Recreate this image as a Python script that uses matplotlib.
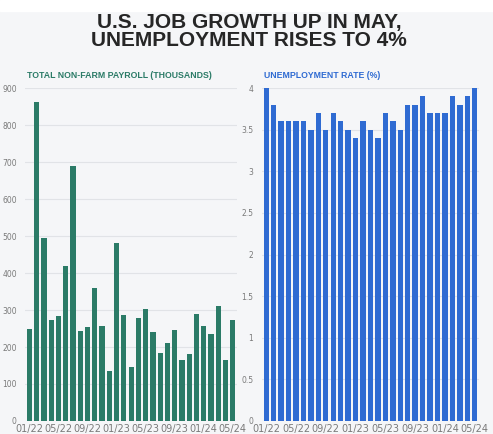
import matplotlib.pyplot as plt
import numpy as np

months = ["01/22", "02/22", "03/22", "04/22", "05/22", "06/22", "07/22", "08/22", "09/22", "10/22",
          "11/22", "12/22", "01/23", "02/23", "03/23", "04/23", "05/23", "06/23", "07/23", "08/23",
          "09/23", "10/23", "11/23", "12/23", "01/24", "02/24", "03/24", "04/24", "05/24"]
payroll = [250, 862, 494, 272, 285, 420, 690, 243, 255, 360, 258, 135, 480, 286, 145,
           278, 303, 240, 184, 210, 246, 165, 182, 290, 256, 236, 310, 165, 272]
unemp = [4.0, 3.8, 3.6, 3.6, 3.6, 3.6, 3.5, 3.7, 3.5, 3.7, 3.6, 3.5, 3.4, 3.6, 3.5,
         3.4, 3.7, 3.6, 3.5, 3.8, 3.8, 3.9, 3.7, 3.7, 3.7, 3.9, 3.8, 3.9, 4.0]
payroll_ticks = list(range(0, 901, 100))
unemp_ticks = [0, 0.5, 1, 1.5, 2, 2.5, 3, 3.5, 4]

bg = "#f5f6f8"
green = "#2b7b67"
blue = "#2f6bd2"

fig = plt.figure(figsize=(4.93, 4.34), dpi=100, facecolor=bg)
fig.patches.append(plt.Rectangle((0, 0.975), 1, 0.025, transform=fig.transFigure,
                                 color="white", zorder=0))

# headline
fig.text(0.505, 0.927, "U.S. JOB GROWTH UP IN MAY,\nUNEMPLOYMENT RISES TO 4%",
         ha="center", va="center", fontsize=15, fontweight="bold",
         family="Liberation Sans", color="#262626", linespacing=0.92)

x = np.arange(len(months))
tick_idx = list(range(0, len(months), 4))

def style(ax, yticks, ylabels, title, tcolor):
    ax.set_facecolor(bg)
    for s in ax.spines.values():
        s.set_visible(False)
    ax.set_yticks(yticks, ylabels)
    ax.set_xticks(tick_idx, [months[i] for i in tick_idx])
    ax.tick_params(length=0, colors="#7a7a7a")
    ax.tick_params(axis="y", labelsize=5.5, pad=6)
    ax.tick_params(axis="x", labelsize=7, pad=2)
    ax.grid(axis="y", color="#e1e3e7", lw=0.8)
    ax.set_axisbelow(True)
    ax.set_xlim(-0.6, len(months) - 0.4)
    ax.text(0.01, 1.03, title, transform=ax.transAxes, fontsize=6.3,
            fontweight="bold", color=tcolor, family="Liberation Sans")

ax1 = fig.add_axes([0.051, 0.030, 0.430, 0.767])
ax1.bar(x, payroll, width=0.72, color=green)
ax1.set_ylim(0, 900)
style(ax1, payroll_ticks, [str(t) for t in payroll_ticks],
      "TOTAL NON-FARM PAYROLL (THOUSANDS)", green)

ax2 = fig.add_axes([0.531, 0.030, 0.441, 0.767])
ax2.bar(x, unemp, width=0.72, color=blue)
ax2.set_ylim(0, 4)
style(ax2, unemp_ticks, ["0", "0.5", "1", "1.5", "2", "2.5", "3", "3.5", "4"],
      "UNEMPLOYMENT RATE (%)", blue)

fig.savefig("out.png", dpi=100, facecolor=bg)
